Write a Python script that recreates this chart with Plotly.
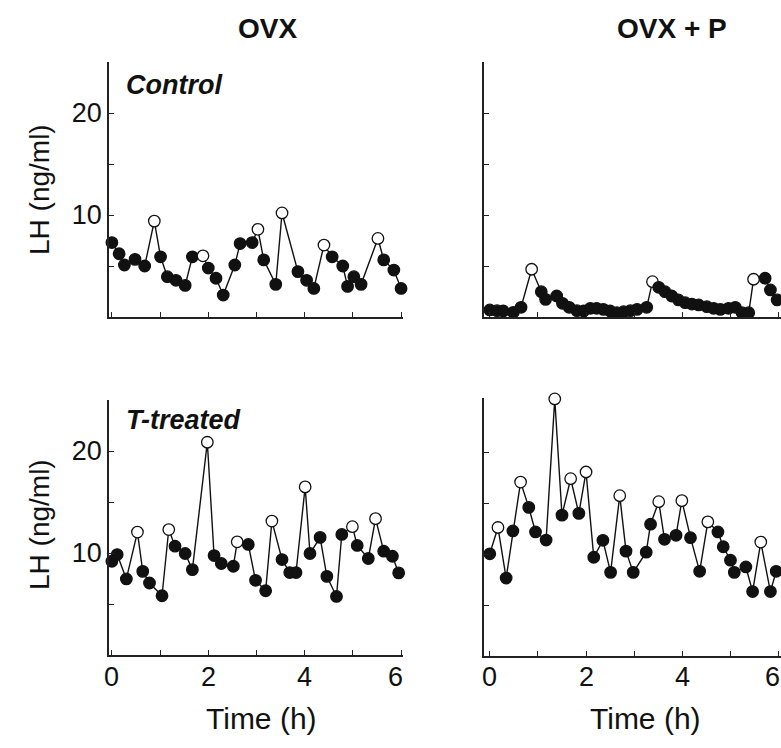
import plotly.graph_objects as go

# ---- data (time in h, LH in ng/ml, peak flag 1 = open circle) ----
tl_t = [0, 0.15, 0.26, 0.48, 0.68, 0.88, 1.01, 1.15, 1.33, 1.52, 1.67, 1.89, 2.0, 2.16, 2.31,
        2.55, 2.66, 2.91, 3.03, 3.15, 3.40, 3.53, 3.86, 4.04, 4.19, 4.40, 4.57, 4.79, 4.89,
        5.02, 5.17, 5.52, 5.64, 5.85, 6.0]
tl_lh = [7.3, 6.2, 5.1, 5.65, 5.0, 9.4, 5.9, 3.95, 3.6, 3.1, 5.9, 6.0, 4.8, 3.8, 2.15,
         5.1, 7.2, 7.3, 8.6, 5.6, 3.2, 10.2, 4.45, 3.6, 2.8, 7.05, 5.9, 5.0, 3.0,
         3.95, 3.2, 7.7, 5.6, 4.6, 2.8]
tl_peak = [0, 0, 0, 0, 0, 1, 0, 0, 0, 0, 0, 1, 0, 0, 0,
           0, 0, 0, 1, 0, 0, 1, 0, 0, 0, 1, 0, 0, 0,
           0, 0, 1, 0, 0, 0]

tr_t = [0, 0.15, 0.28, 0.49, 0.65, 0.87, 1.07, 1.16, 1.39, 1.51, 1.65, 1.81, 1.95, 2.09,
        2.22, 2.36, 2.50, 2.64, 2.78, 2.92, 3.06, 3.26, 3.38, 3.51, 3.64, 3.78, 3.92, 4.06,
        4.20, 4.34, 4.51, 4.65, 4.79, 4.96, 5.10, 5.24, 5.38, 5.48, 5.72, 5.83, 5.97]
tr_lh = [0.69, 0.62, 0.59, 0.46, 0.95, 4.68, 2.48, 1.73, 2.06, 1.34, 0.95, 0.62, 0.59, 0.85,
         0.85, 0.75, 0.59, 0.42, 0.52, 0.62, 0.75, 0.95, 3.46, 2.91, 2.48, 2.06, 1.67, 1.4,
         1.27, 1.18, 1.01, 0.85, 0.75, 0.85, 0.95, 0.42, 0.42, 3.7, 3.8, 2.65, 1.67]
tr_peak = [0, 0, 0, 0, 0, 1, 0, 0, 0, 0, 0, 0, 0, 0,
           0, 0, 0, 0, 0, 0, 0, 0, 1, 0, 0, 0, 0, 0,
           0, 0, 0, 0, 0, 0, 0, 0, 0, 1, 0, 0, 0]

bl_t = [0, 0.11, 0.30, 0.53, 0.64, 0.78, 1.04, 1.18, 1.31, 1.52, 1.67, 1.98, 2.12, 2.27,
        2.52, 2.60, 2.83, 2.98, 3.19, 3.32, 3.53, 3.69, 3.82, 4.01, 4.11, 4.32, 4.46, 4.66,
        4.77, 4.99, 5.09, 5.32, 5.47, 5.64, 5.82, 5.95]
bl_lh = [9.19, 9.85, 7.46, 12.05, 8.2, 7.06, 5.81, 12.3, 10.67, 9.95, 8.37, 20.86, 9.75, 8.97,
         8.7, 11.1, 10.84, 7.32, 6.3, 13.13, 9.36, 8.08, 8.08, 16.48, 9.95, 11.53, 7.71, 5.74,
         11.82, 12.58, 10.74, 9.46, 13.37, 10.18, 9.68, 8.05]
bl_peak = [0, 0, 0, 1, 0, 0, 0, 1, 0, 0, 0, 1, 0, 0,
           0, 1, 0, 0, 0, 1, 0, 0, 0, 1, 0, 0, 0, 0,
           0, 1, 0, 0, 1, 0, 0, 0]

br_t = [0, 0.17, 0.34, 0.48, 0.64, 0.81, 0.95, 1.17, 1.35, 1.50, 1.68, 1.85, 2.00, 2.16,
        2.35, 2.51, 2.70, 2.83, 2.98, 3.25, 3.34, 3.51, 3.63, 3.87, 3.99, 4.17, 4.36, 4.53,
        4.74, 4.85, 5.00, 5.08, 5.32, 5.46, 5.63, 5.83, 5.95]
br_lh = [10.02, 12.6, 7.64, 12.26, 17.05, 14.57, 12.16, 11.37, 25.2, 13.81, 17.38, 13.98, 18.04,
         9.68, 11.34, 8.2, 15.72, 10.28, 8.2, 10.18, 12.92, 15.13, 11.44, 11.83, 15.23, 11.6,
         8.3, 13.15, 12.16, 10.71, 9.39, 8.2, 8.73, 6.32, 11.17, 6.32, 8.3]
br_peak = [0, 1, 0, 0, 1, 0, 0, 0, 1, 0, 1, 0, 1,
           0, 0, 0, 1, 0, 0, 0, 0, 1, 0, 0, 1, 0,
           0, 1, 0, 0, 0, 0, 0, 0, 1, 0, 0]

col_titles = ["OVX", "OVX + P"]
row_titles = ["Control", "T-treated"]
y_tickvals = [5, 10, 15, 20]
y_ticktext = ["", "10", "", "20"]
x_tickvals = [0, 1, 2, 3, 4, 5, 6]
x_labelvals = [0, 2, 4, 6]
x_labeltext = ["0", "2", "4", "6"]

# ---- layout helpers (body margin removed by post_script, figure fills the window) ----
W, H = 781, 748
FONT = "Liberation Sans, Arial, sans-serif"
AX = "#222222"
TXT = "#111111"
PXU = 10.2  # pixels per LH unit


def px_x(p):
    return p / W


def px_y(p):
    return 1 - p / H


fig = go.Figure()

panels = [
    (tl_t, tl_lh, tl_peak, "x", "y"),
    (tr_t, tr_lh, tr_peak, "x2", "y2"),
    (bl_t, bl_lh, bl_peak, "x3", "y3"),
    (br_t, br_lh, br_peak, "x4", "y4"),
]

for t, lh, pk, xa, ya in panels:
    fig.add_trace(go.Scatter(
        x=t, y=lh, xaxis=xa, yaxis=ya, mode="lines+markers",
        line=dict(color=TXT, width=1.4),
        marker=dict(size=11.5, color=["white" if p else TXT for p in pk],
                    line=dict(color=TXT, width=1.3)),
        cliponaxis=False, showlegend=False, hoverinfo="skip"))

left_dom = [px_x(109), px_x(403)]
right_dom = [px_x(484), 1.0]

left_rng = [-0.06, 6.04]
right_rng = [-0.12, 6.05]


def xaxis(dom, rng, anchor):
    return dict(domain=dom, range=rng, anchor=anchor, showline=True, linecolor=AX, linewidth=1.5,
                ticks="inside", ticklen=5, tickwidth=1.2, tickcolor=AX,
                tickvals=x_tickvals, showticklabels=False,
                showgrid=False, zeroline=False, automargin=False)


def yaxis(bottom_px, top_val, labels, anchor):
    top_px = bottom_px - top_val * PXU
    return dict(domain=[px_y(bottom_px), px_y(top_px)], range=[0, top_val], anchor=anchor,
                showline=True, linecolor=AX, linewidth=1.5,
                ticks="inside", ticklen=5, tickwidth=1.2, tickcolor=AX,
                tickvals=y_tickvals, ticktext=y_ticktext if labels else [""] * 4,
                showgrid=False, zeroline=False, automargin=False,
                tickfont=dict(family=FONT, size=27, color=TXT))


fig.update_layout(
    width=W, height=H, margin=dict(l=0, r=0, t=0, b=0),
    paper_bgcolor="white", plot_bgcolor="white",
    xaxis=xaxis(left_dom, left_rng, "y"),
    yaxis=yaxis(317, 25, True, "x"),
    xaxis2=xaxis(right_dom, right_rng, "y2"),
    yaxis2=yaxis(317, 25, False, "x2"),
    xaxis3=xaxis(left_dom, left_rng, "y3"),
    yaxis3=yaxis(655, 25, True, "x3"),
    xaxis4=xaxis(right_dom, right_rng, "y4"),
    yaxis4=yaxis(656, 25.3, False, "x4"),
)

ann = []


def add_text(text, x, y, size, bold=False, italic=False, angle=0, xanchor="center"):
    if bold:
        text = "<b>" + text + "</b>"
    if italic:
        text = "<i>" + text + "</i>"
    ann.append(dict(text=text, x=px_x(x), y=px_y(y), xref="paper", yref="paper",
                    xanchor=xanchor, yanchor="middle", showarrow=False, textangle=angle,
                    font=dict(family=FONT, size=size, color=TXT)))


add_text(col_titles[0], 267, 28, 28, bold=True)
add_text(col_titles[1], 672, 28, 28, bold=True)
add_text(row_titles[0], 124, 85, 27, bold=True, italic=True, xanchor="left")
add_text(row_titles[1], 124, 420, 27, bold=True, italic=True, xanchor="left")
add_text("LH (ng/ml)", 39, 190, 28, angle=-90)
add_text("LH (ng/ml)", 39, 525, 28, angle=-90)
add_text("Time (h)", 261, 718, 30)
add_text("Time (h)", 645, 718, 30)

# x tick labels of the bottom panels, placed on the axis scale
for xref in ["x3", "x4"]:
    for v, s in zip(x_labelvals, x_labeltext):
        ann.append(dict(text=s, x=v, xref=xref, y=px_y(677), yref="paper",
                        xanchor="center", yanchor="middle", showarrow=False,
                        xshift=-6 if v == 6 else 0,
                        font=dict(family=FONT, size=27, color=TXT)))

fig.update_layout(annotations=ann)

post = ("document.documentElement.style.overflow='hidden';"
        "document.body.style.margin='0';"
        "document.body.style.overflow='hidden';")
fig.write_html("out.html", post_script=post, config={"displayModeBar": False})
